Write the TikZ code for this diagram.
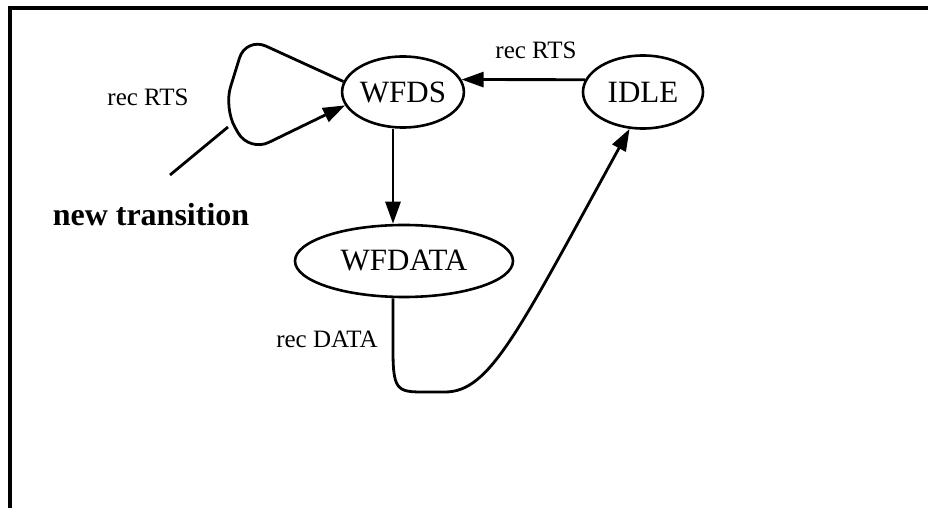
\documentclass[tikz,border=0pt]{standalone}
\usepackage{fontspec}
\setmainfont{Liberation Serif}
\usetikzlibrary{arrows.meta}
\usetikzlibrary{shapes.geometric}

\begin{document}
\begin{tikzpicture}[x=0.5pt,y=-0.5pt,
        etat/.style={draw,ellipse,line width=1.3pt,inner sep=0pt,font=\fontsize{15.5}{18}\selectfont},
        trans/.style={line width=1.4pt,-{Triangle[length=11pt,width=7.5pt]}},
        lbl/.style={font=\fontsize{12.5}{15}\selectfont}]
        \useasboundingbox (0,0) rectangle (928,508);
        % Cadre
        \draw[line width=2pt] (9.5,508) -- (9.5,8.5) -- (928,8.5);

        % Etats
        \node[etat,minimum width=60.5pt,minimum height=35.5pt] (wfds) at (403,92) {WFDS};
        \node[etat,minimum width=60pt,minimum height=36.5pt] (idle) at (643,92) {IDLE};
        \node[etat,minimum width=109pt,minimum height=36pt] (wfdata) at (404,261) {WFDATA};

        % Transitions
        \draw[trans] (idle.168) -- (wfds.12);
        \node[lbl] (lrts) at (536,50) {rec RTS};
        \draw[trans] ([xshift=-5pt]wfds.south) -- ([xshift=-5pt]wfds.south |- wfdata.north);
        \draw[trans] ([xshift=-5.5pt]wfdata.south) -- (393,350) .. controls (393,394) and (398,392) .. (432,392)
            -- (445,392) .. controls (490,392) and (518,332) .. (idle.250);
        \node[lbl] (ldata) at (327,339) {rec DATA};

        % Nouvelle transition (boucle sur WFDS)
        \draw[trans,rounded corners=11pt] (wfds.170) -- (246,37) -- (224,108) -- (249,152) -- (wfds.193);
        \node[lbl] (lloop) at (148,97) {rec RTS};
        \coordinate (pointe) at (228,127);
        \coordinate (bout) at (170,175);
        \draw[line width=1.4pt] (pointe) -- (bout);
        \node[font=\fontsize{16}{19}\selectfont\bfseries] (newtr) at (151,215) {new transition};
\end{tikzpicture}
\end{document}
